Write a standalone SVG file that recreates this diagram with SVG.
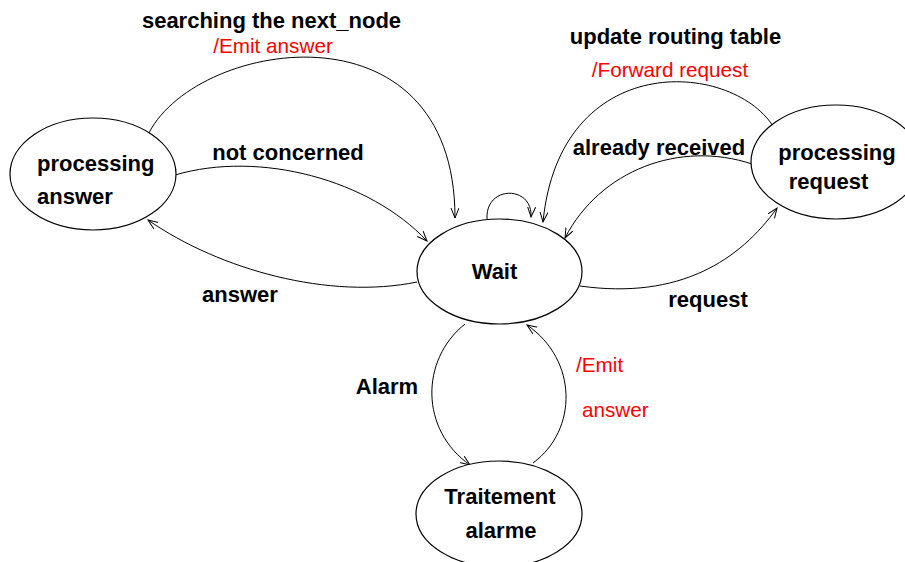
<svg xmlns="http://www.w3.org/2000/svg" width="905" height="562" viewBox="0 0 905 562">
<style>
.node{fill:#fff;stroke:#000;stroke-width:1.2}
.edge{fill:none;stroke:#000;stroke-width:1;marker-end:url(#arr)}
.b{font-family:"Liberation Sans",Arial,sans-serif;font-weight:bold;font-size:22px;fill:#000}
.r{font-family:"Liberation Sans",Arial,sans-serif;font-size:20.7px;fill:#ff0000}
.m{text-anchor:middle}
</style>
<defs>
<marker id="arr" markerUnits="userSpaceOnUse" markerWidth="12" markerHeight="10" refX="10" refY="4" orient="auto">
<path d="M0,0 L10,4 L0,8" fill="none" stroke="#000" stroke-width="1"/>
</marker>
</defs>
<rect width="905" height="562" fill="#fff"/>
<g id="connectors">
<path class="edge" d="M147,137 C190,40 455,-5 455,218"/>
<path class="edge" d="M175,175 C260,150 370,180 427,241"/>
<path class="edge" d="M417,282 C330,300 220,270 148,220"/>
<path class="edge" d="M580,286 C680,300 740,260 777,208"/>
<path class="edge" d="M752,164 C680,140 600,170 565,238"/>
<path class="edge" d="M773,126 C730,60 560,50 543,222"/>
<path class="edge" d="M487,219 C485,185 533,185 531,217"/>
<path class="edge" d="M465,324 C420,360 420,430 470,465"/>
<path class="edge" d="M533,463 C578,430 578,360 527,325"/>
</g>
<g id="labels">
<text class="b m" x="271.5" y="28">searching the next_node</text>
<text class="r m" x="273" y="53">/Emit answer</text>
<text class="b m" x="288" y="160">not concerned</text>
<text class="b m" x="240" y="302">answer</text>
<text class="b m" x="675.5" y="44">update routing table</text>
<text class="r m" x="670" y="77">/Forward request</text>
<text class="b m" x="659" y="155">already received</text>
<text class="b m" x="708" y="307">request</text>
<text class="b m" x="387" y="394">Alarm</text>
<text class="r" x="576" y="372">/Emit</text>
<text class="r" x="582" y="417">answer</text>
</g>
<g id="wait">
<ellipse class="node" cx="499.5" cy="271.5" rx="82.5" ry="52.5"/>
<text class="b m" x="494.5" y="279">Wait</text>
</g>
<g id="processing-answer">
<ellipse class="node" cx="93" cy="174" rx="83" ry="56"/>
<text class="b" x="37" y="171">processing</text>
<text class="b" x="37" y="204">answer</text>
</g>
<g id="processing-request">
<ellipse class="node" cx="836" cy="162" rx="85" ry="57"/>
<text class="b m" x="837" y="160">processing</text>
<text class="b m" x="828.5" y="189">request</text>
</g>
<g id="traitement-alarme">
<ellipse class="node" cx="499" cy="514" rx="83" ry="53"/>
<text class="b m" x="500" y="504">Traitement</text>
<text class="b m" x="501" y="538">alarme</text>
</g>
</svg>
